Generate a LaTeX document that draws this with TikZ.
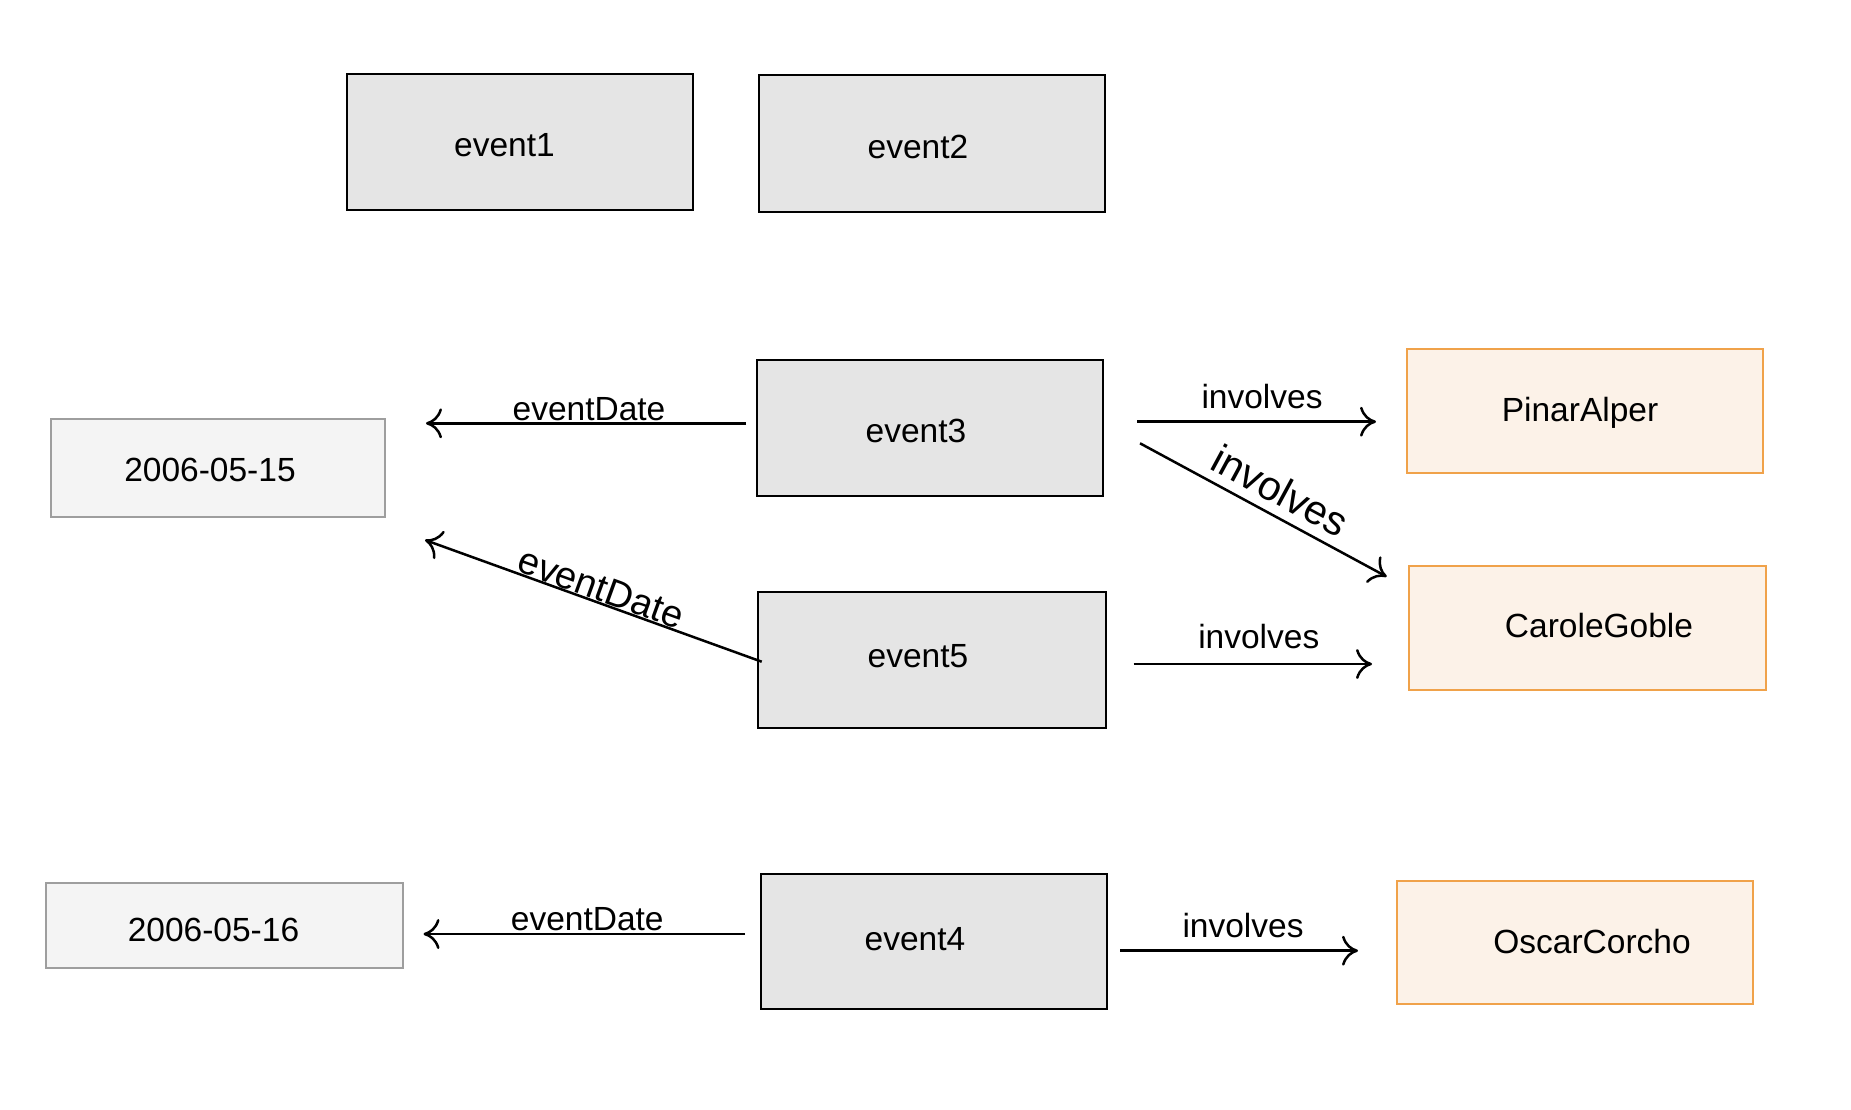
\documentclass[tikz,border=0pt]{standalone}
\usepackage{fontspec}
\setmainfont{Liberation Sans}
\usetikzlibrary{arrows.meta}
\definecolor{evfill}{HTML}{E5E5E5}
\definecolor{dtfill}{HTML}{F4F4F4}
\definecolor{dtline}{HTML}{9E9E9E}
\definecolor{psfill}{HTML}{FCF2E8}
\definecolor{psline}{HTML}{F0A24A}
\tikzset{
  box/.style={rectangle, inner sep=0pt, outer sep=0pt},
  evbox/.style={box, draw=black, line width=2pt, fill=evfill},
  dtbox/.style={box, draw=dtline, line width=2.5pt, fill=dtfill},
  psbox/.style={box, draw=psline, line width=2.5pt, fill=psfill},
  txt/.style={font=\fontsize{33.5}{40}\selectfont, inner sep=0pt},
  rel/.style={line width=2.5pt, -{To[length=16pt,width=30pt]}},
  lab/.style={font=\fontsize{33.5}{40}\selectfont, inner sep=0pt, anchor=base},
}
\begin{document}
\begin{tikzpicture}[x=1pt,y=-1pt]
\useasboundingbox (0,0) rectangle (1851,1110);
% event nodes
\node[evbox, minimum width=346pt, minimum height=136pt,
  label={[txt,xshift=-15pt,yshift=-3pt]center:event1}] (e1) at (519.5,142) {};
\node[evbox, minimum width=346pt, minimum height=137pt,
  label={[txt,xshift=-14pt,yshift=-3pt]center:event2}] (e2) at (932,143.5) {};
\node[evbox, minimum width=346pt, minimum height=136pt,
  label={[txt,xshift=-14pt,yshift=-3pt]center:event3}] (e3) at (930,428) {};
\node[evbox, minimum width=348pt, minimum height=136pt,
  label={[txt,xshift=-14pt,yshift=4pt]center:event5}] (e5) at (932,660) {};
\node[evbox, minimum width=346pt, minimum height=135pt,
  label={[txt,xshift=-19pt,yshift=2pt]center:event4}] (e4) at (934,941.5) {};
% date nodes
\node[dtbox, minimum width=334pt, minimum height=98pt,
  label={[txt,xshift=-8pt,yshift=-1.5pt]center:2006-05-15}] (d15) at (218,468) {};
\node[dtbox, minimum width=357pt, minimum height=85pt,
  label={[txt,xshift=-11pt,yshift=-4.5pt]center:2006-05-16}] (d16) at (224.5,925.5) {};
% person nodes
\node[psbox, minimum width=356pt, minimum height=124pt,
  label={[txt,xshift=-5pt,yshift=-2pt]center:PinarAlper}] (pa) at (1585,411) {};
\node[psbox, minimum width=357pt, minimum height=124pt,
  label={[txt,xshift=11.5pt,yshift=2pt]center:CaroleGoble}] (cg) at (1587.5,628) {};
\node[psbox, minimum width=356pt, minimum height=123pt,
  label={[txt,xshift=17pt,yshift=1pt]center:OscarCorcho}] (oc) at (1575,942.5) {};
% connectors
\draw[rel] ([shift={(34,-6.3)}]e3.east) -- ([shift={(-31,10.7)}]pa.west)
  node[lab, midway, xshift=5.5pt, yshift=13.7pt] {involves};
\draw[rel] ([shift={(37,15.3)}]e3.east) -- ([shift={(-22.3,-51.3)}]cg.west)
  node[pos=0.52, sloped, above=9pt, inner sep=0pt, font=\fontsize{41}{48}\selectfont] {involves};
\draw[rel] ([shift={(27.5,4)}]e5.east) -- ([shift={(-37,36)}]cg.west)
  node[lab, midway, xshift=6pt, yshift=15.7pt] {involves};
\draw[rel] ([shift={(13,9.2)}]e4.east) -- ([shift={(-39,8.2)}]oc.west)
  node[lab, midway, xshift=4pt, yshift=13.4pt] {involves};
\draw[rel] ([shift={(-11,-4.7)}]e3.west) -- ([shift={(41,-44.7)}]d15.east)
  node[lab, midway, xshift=3pt, yshift=2.6pt] {eventDate};
\draw[rel] ([shift={(3.7,1.7)}]e5.west) -- ([shift={(40,72)}]d15.east)
  node[pos=0.492, sloped, above=0pt, inner sep=0pt, font=\fontsize{38}{45}\selectfont] {eventDate};
\draw[rel] ([shift={(-16,-7.5)}]e4.west) -- ([shift={(20.5,8.5)}]d16.east)
  node[lab, midway, xshift=3pt, yshift=4pt] {eventDate};
\end{tikzpicture}
\end{document}
